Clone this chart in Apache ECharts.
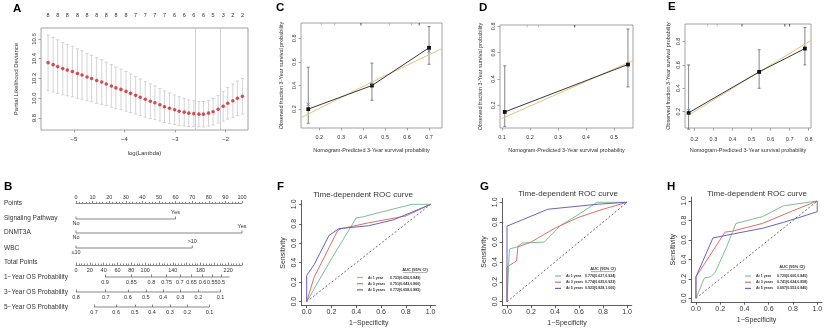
<!DOCTYPE html>
<html>
<head>
<meta charset="utf-8">
<script src="https://cdn.jsdelivr.net/npm/echarts@6/dist/echarts.min.js"></script>
<style>html,body{margin:0;background:#fff}#chart{width:825px;height:332px}</style>
</head>
<body>
<div id="chart"></div>
<script>
const FONT = '"Liberation Sans", Arial, sans-serif';
const INK = '#333';
const MUTED = '#555';
const BOX = '#8a8a8a';

// ---- A: LASSO cross-validation ----
const LOG_LAMBDA = [-5.51, -5.41, -5.32, -5.22, -5.13, -5.03, -4.93, -4.84, -4.74, -4.65,
  -4.55, -4.45, -4.36, -4.26, -4.17, -4.07, -3.97, -3.88, -3.78, -3.69,
  -3.59, -3.49, -3.40, -3.30, -3.21, -3.11, -3.01, -2.92, -2.82, -2.73,
  -2.63, -2.53, -2.44, -2.34, -2.25, -2.15, -2.05, -1.96, -1.86, -1.77, -1.67];
const DEVIANCE = [10.36, 10.34, 10.32, 10.30, 10.285, 10.27, 10.25, 10.235, 10.215, 10.20,
  10.18, 10.165, 10.145, 10.125, 10.105, 10.09, 10.07, 10.05, 10.03, 10.01,
  9.99, 9.97, 9.955, 9.935, 9.915, 9.90, 9.885, 9.87, 9.86, 9.85,
  9.845, 9.84, 9.84, 9.85, 9.865, 9.89, 9.92, 9.95, 9.975, 10.00, 10.02];
const DEVIANCE_SD = [0.28, 0.275, 0.27, 0.265, 0.26, 0.255, 0.25, 0.245, 0.24, 0.235,
  0.23, 0.225, 0.22, 0.215, 0.21, 0.205, 0.20, 0.195, 0.19, 0.185,
  0.18, 0.175, 0.17, 0.165, 0.16, 0.155, 0.15, 0.145, 0.14, 0.135,
  0.13, 0.128, 0.128, 0.13, 0.135, 0.14, 0.15, 0.16, 0.17, 0.175, 0.18];
const NZERO = [8, 8, 8, 8, 8, 8, 8, 8, 8, 7, 7, 7, 7, 6, 6, 6, 6, 5, 3, 2, 2];
const LAMBDA_MIN = -2.6;
const LAMBDA_1SE = -2.11;

// ---- B: nomogram ----
const NOMO_ROWS = ['Points', 'Signaling Pathway', 'DNMT3A', 'WBC', 'Total Points',
  '1\u2212Year OS Probability', '3\u2212Year OS Probability', '5\u2212Year OS Probability'];
const SP_LEVELS = ['No', 'Yes'];
const SP_POINTS = [0, 60];
const DNMT3A_LEVELS = ['No', 'Yes'];
const DNMT3A_POINTS = [0, 100];
const WBC_LEVELS = ['\u226410', '>10'];
const WBC_POINTS = [0, 70];
const TOTAL_MAX = 240;
const TOTAL_LABELS = [0, 20, 40, 60, 80, 100, 140, 180, 220];
const OS1_PROB = ['0.9', '0.85', '0.8', '0.75', '0.7', '0.65', '0.6', '0.55', '0.5', '0.45'];
const OS1_TOTAL = [42, 80, 109, 131, 150, 167, 183, 197, 210, 222];
const OS3_PROB = ['0.8', '0.7', '0.6', '0.5', '0.4', '0.3', '0.2', '0.1'];
const OS3_TOTAL = [0, 43, 75, 101, 126, 151, 177, 209];
const OS5_PROB = ['0.7', '0.6', '0.5', '0.4', '0.3', '0.2', '0.1'];
const OS5_TOTAL = [26, 58, 85, 110, 136, 161, 193];

// ---- C-E: calibration ----
const CAL_C_PRED = [0.15, 0.44, 0.70];
const CAL_C_OBS = [0.20, 0.40, 0.72];
const CAL_C_LO = [0.08, 0.275, 0.58];
const CAL_C_HI = [0.555, 0.59, 0.90];
const CAL_C_ADJ = [0.24, 0.41, 0.69];
const CAL_C_REF = [[0.12, 0.13], [0.44, 0.43], [0.755, 0.71]];
const CAL_C_RUG_GREY = [0.21, 0.27, 0.52, 0.62];
const CAL_C_RUG_BLACK = [0.39, 0.655];

const CAL_D_PRED = [0.11, 0.55];
const CAL_D_OBS = [0.15, 0.51];
const CAL_D_LO = [0.04, 0.34];
const CAL_D_HI = [0.50, 0.78];
const CAL_D_ADJ = [];
const CAL_D_REF = [[0.10, 0.10], [0.568, 0.54]];
const CAL_D_RUG_GREY = [0.19, 0.23];
const CAL_D_RUG_BLACK = [0.36];

const CAL_E_PRED = [0.17, 0.54, 0.78];
const CAL_E_OBS = [0.19, 0.54, 0.74];
const CAL_E_LO = [0.05, 0.40, 0.60];
const CAL_E_HI = [0.60, 0.73, 0.92];
const CAL_E_ADJ = [0.21];
const CAL_E_REF = [[0.17, 0.17], [0.812, 0.81]];
const CAL_E_RUG_GREY = [0.27, 0.32];
const CAL_E_RUG_BLACK = [0.45, 0.675, 0.70];

// ---- F-H: time-dependent ROC ----
const ROC_NAMES = ['At 1 year', 'At 3 years', 'At 5 years'];
const ROC_COLORS = ['#7cc08f', '#d9716b', '#6a62c4'];
const ROC_F = [
  [[0, 0], [0.2, 0.44], [0.4, 0.86], [0.45, 0.87], [0.6, 0.92], [0.85, 1.0], [1, 1]],
  [[0, 0], [0.06, 0.25], [0.25, 0.73], [0.28, 0.75], [0.5, 0.81], [0.8, 0.88], [1, 1]],
  [[0, 0], [0, 0.27], [0.06, 0.38], [0.18, 0.68], [0.26, 0.75], [0.5, 0.78], [0.7, 0.84], [1, 1]],
];
const ROC_G = [
  [[0, 0], [0.02, 0.53], [0.08, 0.55], [0.13, 0.59], [0.31, 0.60], [0.45, 0.77], [0.6, 0.88], [0.75, 1.0], [1, 1]],
  [[0, 0], [0, 0.35], [0.08, 0.41], [0.09, 0.41], [0.09, 0.55], [0.2, 0.60], [0.4, 0.74], [0.6, 0.85], [0.8, 0.93], [1, 1]],
  [[0, 0], [0, 0.76], [0.1, 0.81], [0.34, 0.93], [0.75, 0.98], [1, 1]],
];
const ROC_H = [
  [[0, 0], [0.07, 0.21], [0.12, 0.22], [0.16, 0.27], [0.25, 0.52], [0.33, 0.77], [0.55, 0.84], [0.72, 0.95], [1, 1]],
  [[0, 0], [0, 0.22], [0.24, 0.68], [0.3, 0.69], [0.55, 0.77], [0.8, 0.9], [1, 1]],
  [[0, 0], [0, 0.22], [0.14, 0.62], [0.3, 0.66], [0.55, 0.72], [0.72, 0.78], [0.85, 0.83], [1, 0.89], [1, 1]],
];
const AUC_F = ['0.753(0.656,0.849)', '0.751(0.643,0.860)', '0.772(0.658,0.885)'];
const AUC_G = ['0.776(0.627,0.924)', '0.774(0.625,0.923)', '0.923(0.828,1.000)'];
const AUC_H = ['0.720(0.600,0.840)', '0.741(0.624,0.858)', '0.697(0.553,0.840)'];
const ROC_TICKS = [0, 0.2, 0.4, 0.6, 0.8, 1];

// ---------------------------------------------------------------
const grid = [], xAxis = [], yAxis = [], series = [], graphic = [], legend = [];
const fmt1 = v => v.toFixed(1);
const nearest = (arr, v) => arr.reduce((b, a, i) => (Math.abs(a - v) < Math.abs(arr[b] - v) ? i : b), 0);

function addGrid(rect, xa, ya) {
  const gi = grid.length;
  grid.push({ ...rect, outerBoundsMode: 'none' });
  xAxis.push({ gridIndex: gi, ...xa });
  yAxis.push({ gridIndex: gi, ...ya });
  return { gi, xi: xAxis.length - 1, yi: yAxis.length - 1 };
}

function text(x, y, str, size, opts = {}) {
  graphic.push({
    type: 'text', x, y, rotation: opts.rotation || 0, silent: true,
    style: {
      text: str, font: `${opts.weight || 'normal'} ${size}px ${FONT}`,
      fill: opts.color || INK, align: opts.align || 'left', verticalAlign: 'middle',
    },
  });
}

// R-style axis: ticks and labels at given values, box drawn by the grid
function rAxis({ min, max, ticks, fmt = fmt1, size = 5.5, rotate = 0, margin = 4, name, nameGap, nameSize = 5.5, line = false }) {
  return {
    type: 'value', min, max,
    axisLine: { show: line, onZero: false, lineStyle: { color: INK, width: 0.8 } },
    axisTick: { show: true, customValues: ticks, length: 2.5, lineStyle: { color: line ? INK : BOX, width: 0.8 } },
    axisLabel: { customValues: ticks, formatter: fmt, fontSize: size, fontFamily: FONT, color: INK, rotate, margin },
    splitLine: { show: false },
    name, nameLocation: 'middle', nameGap,
    nameTextStyle: { fontSize: nameSize, fontFamily: FONT, color: INK },
  };
}

function errorBar(color, cap) {
  return (params, api) => {
    const x = api.value(0);
    const lo = api.coord([x, api.value(1)]);
    const hi = api.coord([x, api.value(2)]);
    const seg = (x1, y1, x2, y2) => ({ type: 'line', shape: { x1, y1, x2, y2 }, style: { stroke: color, lineWidth: 0.8 } });
    return {
      type: 'group',
      children: [
        seg(lo[0], lo[1], hi[0], hi[1]),
        seg(lo[0] - cap, lo[1], lo[0] + cap, lo[1]),
        seg(hi[0] - cap, hi[1], hi[0] + cap, hi[1]),
      ],
    };
  };
}

// ---------------- A ----------------
const A_X = { min: -5.65, max: -1.56 };
const pA = addGrid(
  { left: 41, top: 28, width: 207, height: 102, show: true, borderColor: BOX, borderWidth: 0.8 },
  rAxis({ ...A_X, ticks: [-5, -4, -3, -2], fmt: v => String(v).replace('-', '\u2212'), size: 6, margin: 6,
    name: 'log(Lambda)', nameGap: 20, nameSize: 6 }),
  rAxis({ min: 9.68, max: 10.71, ticks: [9.8, 10, 10.2, 10.4, 10.6], size: 6, rotate: 90, margin: 4,
    name: 'Partial Likelihood Deviance', nameGap: 22, nameSize: 6 }),
);
const LAMBDA_LABELED = LOG_LAMBDA.filter((_, i) => i % 2 === 0);
xAxis.push({
  gridIndex: pA.gi, type: 'value', position: 'top', ...A_X,
  axisLine: { show: false }, axisTick: { show: false }, splitLine: { show: false },
  axisLabel: { customValues: LAMBDA_LABELED, formatter: v => String(NZERO[nearest(LAMBDA_LABELED, v)]),
    fontSize: 5.5, fontFamily: FONT, color: INK, margin: 10 },
});
series.push({
  type: 'custom', xAxisIndex: pA.xi, yAxisIndex: pA.yi, silent: true, z: 2,
  renderItem: errorBar('#c9c9c9', 1.6),
  encode: { x: 0, y: [1, 2] },
  data: LOG_LAMBDA.map((x, i) => [x, DEVIANCE[i] - DEVIANCE_SD[i], DEVIANCE[i] + DEVIANCE_SD[i]]),
});
series.push({
  type: 'scatter', xAxisIndex: pA.xi, yAxisIndex: pA.yi, silent: true, z: 3,
  data: LOG_LAMBDA.map((x, i) => [x, DEVIANCE[i]]),
  symbolSize: 3.6, itemStyle: { color: '#c9252b' },
  markLine: {
    silent: true, symbol: 'none', label: { show: false },
    lineStyle: { color: '#c4c4c4', width: 0.8, type: 'solid' },
    data: [{ xAxis: LAMBDA_MIN }, { xAxis: LAMBDA_1SE }],
  },
});

// ---------------- B ----------------
const NOMO = { left: 76, width: 166 };
const NOMO_Y = [203, 219, 233, 248, 265, 277, 292, 307];
const NOMO_NAME_Y = [203, 218, 232, 248, 262, 277, 292, 307];
const nomoLine = { color: MUTED, width: 0.7 };
const nomoLabel = { fontSize: 5.5, fontFamily: FONT, color: INK };
const hiddenY = { type: 'value', min: 0, max: 1, show: false };

NOMO_ROWS.forEach((n, i) => text(4, NOMO_NAME_Y[i], n, 6.5));

addGrid({ ...NOMO, top: NOMO_Y[0], height: 1 }, {
  type: 'value', position: 'top', min: 0, max: 100, interval: 10,
  axisLine: { show: true, onZero: false, lineStyle: nomoLine },
  axisTick: { show: true, length: 2, lineStyle: nomoLine },
  minorTick: { show: true, splitNumber: 5, length: 1.2, lineStyle: nomoLine },
  axisLabel: { ...nomoLabel, margin: 2.5 },
  splitLine: { show: false }, minorSplitLine: { show: false },
}, hiddenY);

function nomoFactor(y, levels, points) {
  const r = addGrid({ ...NOMO, top: y - 1, height: 1 },
    { type: 'value', min: 0, max: 100, show: false }, hiddenY);
  series.push({
    type: 'line', xAxisIndex: r.xi, yAxisIndex: r.yi, clip: false, silent: true,
    data: points.map((p, i) => ({
      value: [p, 0],
      label: { show: true, position: i === 0 ? 'bottom' : 'top', distance: 1, formatter: levels[i] },
    })),
    symbol: 'rect', symbolSize: [0.7, 2.6], symbolOffset: [0, -1.3], showSymbol: true,
    lineStyle: nomoLine, itemStyle: { color: MUTED }, label: nomoLabel,
  });
}
nomoFactor(NOMO_Y[1], SP_LEVELS, SP_POINTS);
nomoFactor(NOMO_Y[2], DNMT3A_LEVELS, DNMT3A_POINTS);
nomoFactor(NOMO_Y[3], WBC_LEVELS, WBC_POINTS);

addGrid({ ...NOMO, top: NOMO_Y[4] - 1, height: 1 }, {
  type: 'value', min: 0, max: TOTAL_MAX, interval: 20,
  axisLine: { show: true, onZero: false, lineStyle: nomoLine },
  axisTick: { show: true, inside: true, length: 2.5, lineStyle: nomoLine },
  minorTick: { show: true, splitNumber: 5, length: 1.5, lineStyle: nomoLine },
  axisLabel: { ...nomoLabel, customValues: TOTAL_LABELS, margin: 2 },
  splitLine: { show: false }, minorSplitLine: { show: false },
}, hiddenY);

function nomoProb(y, probs, totals) {
  const r = addGrid({ ...NOMO, top: y - 1, height: 1 }, {
    type: 'value', min: 0, max: TOTAL_MAX,
    axisLine: { show: false, onZero: false },
    axisTick: { show: true, inside: true, customValues: totals, length: 2.5, lineStyle: nomoLine },
    axisLabel: { ...nomoLabel, customValues: totals, formatter: v => probs[nearest(totals, v)], margin: 2.5 },
    splitLine: { show: false },
  }, hiddenY);
  series.push({
    type: 'line', xAxisIndex: r.xi, yAxisIndex: r.yi, clip: false, silent: true, symbol: 'none',
    data: [[totals[0], 0], [totals[totals.length - 1], 0]], lineStyle: nomoLine,
  });
}
nomoProb(NOMO_Y[5], OS1_PROB, OS1_TOTAL);
nomoProb(NOMO_Y[6], OS3_PROB, OS3_TOTAL);
nomoProb(NOMO_Y[7], OS5_PROB, OS5_TOTAL);

// ---------------- C, D, E ----------------
const CAL_X_NAME = 'Nomogram-Predicted 3-Year survival probability';
const CAL_Y_NAME = 'Observed fraction 3-Year survival probability';

function calPanel(rect, xr, yr, d) {
  const p = addGrid({ ...rect, show: true, borderColor: BOX, borderWidth: 0.8 },
    rAxis({ ...xr, name: CAL_X_NAME }), rAxis({ ...yr, rotate: 90, name: CAL_Y_NAME }));
  const on = { xAxisIndex: p.xi, yAxisIndex: p.yi, silent: true };
  series.push({ ...on, type: 'line', data: d.ref, symbol: 'none', z: 2,
    lineStyle: { color: '#e6c27c', width: 1 } });
  series.push({ ...on, type: 'line', data: d.pred.map((x, i) => [x, d.obs[i]]), z: 3,
    symbol: 'rect', symbolSize: 3.8, itemStyle: { color: '#111' }, lineStyle: { color: '#222', width: 0.9 } });
  series.push({ ...on, type: 'custom', renderItem: errorBar('#666', 1.5), encode: { x: 0, y: [1, 2] }, z: 2,
    data: d.pred.map((x, i) => [x, d.lo[i], d.hi[i]]) });
  series.push({ ...on, type: 'scatter', data: d.adj.map((y, i) => [d.pred[i], y]), z: 4,
    symbol: 'path://M0,0L10,10M10,0L0,10', symbolSize: 3.5,
    itemStyle: { color: 'transparent', borderColor: '#5466b5', borderWidth: 0.8 } });
  const rug = (xs, color) => series.push({ ...on, type: 'scatter', clip: false, z: 4,
    data: xs.map(x => [x, yr.max]), symbol: 'rect', symbolSize: [0.9, 2.6], symbolOffset: [0, 1.3],
    itemStyle: { color } });
  rug(d.rugGrey, '#aaa');
  rug(d.rugBlack, '#111');
}

calPanel({ left: 301, top: 23, width: 141, height: 105 },
  { min: 0.117, max: 0.759, ticks: [0.2, 0.3, 0.4, 0.5, 0.6, 0.7], margin: 6, nameGap: 19 },
  { min: 0.04, max: 0.93, ticks: [0.2, 0.4, 0.6, 0.8], margin: 4, nameGap: 17 },
  { pred: CAL_C_PRED, obs: CAL_C_OBS, lo: CAL_C_LO, hi: CAL_C_HI, adj: CAL_C_ADJ, ref: CAL_C_REF,
    rugGrey: CAL_C_RUG_GREY, rugBlack: CAL_C_RUG_BLACK });
calPanel({ left: 500, top: 25, width: 133, height: 103 },
  { min: 0.093, max: 0.568, ticks: [0.1, 0.2, 0.3, 0.4, 0.5], margin: 6, nameGap: 19 },
  { min: 0.028, max: 0.81, ticks: [0.2, 0.4, 0.6, 0.8], margin: 4, nameGap: 17 },
  { pred: CAL_D_PRED, obs: CAL_D_OBS, lo: CAL_D_LO, hi: CAL_D_HI, adj: CAL_D_ADJ, ref: CAL_D_REF,
    rugGrey: CAL_D_RUG_GREY, rugBlack: CAL_D_RUG_BLACK });
calPanel({ left: 685, top: 24, width: 126, height: 104 },
  { min: 0.151, max: 0.812, ticks: [0.2, 0.3, 0.4, 0.5, 0.6, 0.7, 0.8], margin: 8, nameGap: 19 },
  { min: 0.06, max: 0.95, ticks: [0.2, 0.4, 0.6, 0.8], margin: 4, nameGap: 14 },
  { pred: CAL_E_PRED, obs: CAL_E_OBS, lo: CAL_E_LO, hi: CAL_E_HI, adj: CAL_E_ADJ, ref: CAL_E_REF,
    rugGrey: CAL_E_RUG_GREY, rugBlack: CAL_E_RUG_BLACK });

// ---------------- F, G, H ----------------
function rocPanel(rect, curves, auc, leg, head, title) {
  const p = addGrid(rect,
    rAxis({ min: -0.04, max: 1.04, ticks: ROC_TICKS, size: 7, margin: 3, line: true,
      name: '1\u2212Specificity', nameGap: 14, nameSize: 7 }),
    rAxis({ min: -0.04, max: 1.04, ticks: ROC_TICKS, size: 7, rotate: 90, margin: 4, line: true,
      name: 'Sensitivity', nameGap: 15, nameSize: 7 }));
  const on = { xAxisIndex: p.xi, yAxisIndex: p.yi, silent: true, symbol: 'none' };
  series.push({ ...on, type: 'line', data: [[0, 0], [1, 1]], color: '#444',
    lineStyle: { color: '#444', width: 0.8, type: [2, 2] } });
  curves.forEach((c, i) => series.push({ ...on, type: 'line', name: ROC_NAMES[i], data: c,
    color: ROC_COLORS[i], lineStyle: { width: 1 } }));
  legend.push({
    left: leg.left, top: leg.top, orient: 'vertical', itemWidth: 6, itemHeight: 1.2, itemGap: 2.2, icon: 'rect',
    padding: 0, selectedMode: false, data: ROC_NAMES,
    textStyle: { fontSize: 3.6, fontFamily: FONT, fontWeight: 'bold', color: INK,
      rich: { n: { width: leg.nameWidth, fontSize: 3.6, fontWeight: 'bold', fontFamily: FONT },
        v: { fontSize: 3.6, fontFamily: FONT, color: INK } } },
    formatter: name => `{n|${name}}{v|${auc[ROC_NAMES.indexOf(name)]}}`,
  });
  text(head[0], head[1], 'AUC (95% CI)', 4, { weight: 'bold', align: 'center' });
  graphic.push({ type: 'line', silent: true, shape: { x1: head[0] - 12, y1: head[1] + 2.6, x2: head[0] + 12, y2: head[1] + 2.6 },
    style: { stroke: INK, lineWidth: 0.4 } });
  text(title[0], title[1], 'Time-dependent ROC curve', 8, { align: 'center' });
}

rocPanel({ left: 301.7, top: 200.4, width: 133.9, height: 105.2 }, ROC_F, AUC_F,
  { left: 357, top: 275.5, nameWidth: 22 }, [415, 270], [363, 195]);
rocPanel({ left: 502.2, top: 198.3, width: 129.6, height: 107.4 }, ROC_G, AUC_G,
  { left: 555, top: 274, nameWidth: 19 }, [603, 269], [568, 194]);
rocPanel({ left: 691.1, top: 197.1, width: 131, height: 105.1 }, ROC_H, AUC_H,
  { left: 745, top: 274, nameWidth: 21 }, [792, 267], [757, 194]);

// panel letters
[['A', 13, 9], ['B', 4, 187], ['C', 276, 8], ['D', 479, 8], ['E', 668, 7],
  ['F', 277, 187], ['G', 480, 187], ['H', 667, 187]]
  .forEach(([l, x, y]) => text(x, y, l, 11.5, { weight: 'bold', color: '#000' }));

const chart = echarts.init(document.getElementById('chart'), null, { renderer: 'canvas' });
chart.setOption({
  animation: false,
  backgroundColor: '#fff',
  grid, xAxis, yAxis, series, legend, graphic,
});
</script>
</body>
</html>
